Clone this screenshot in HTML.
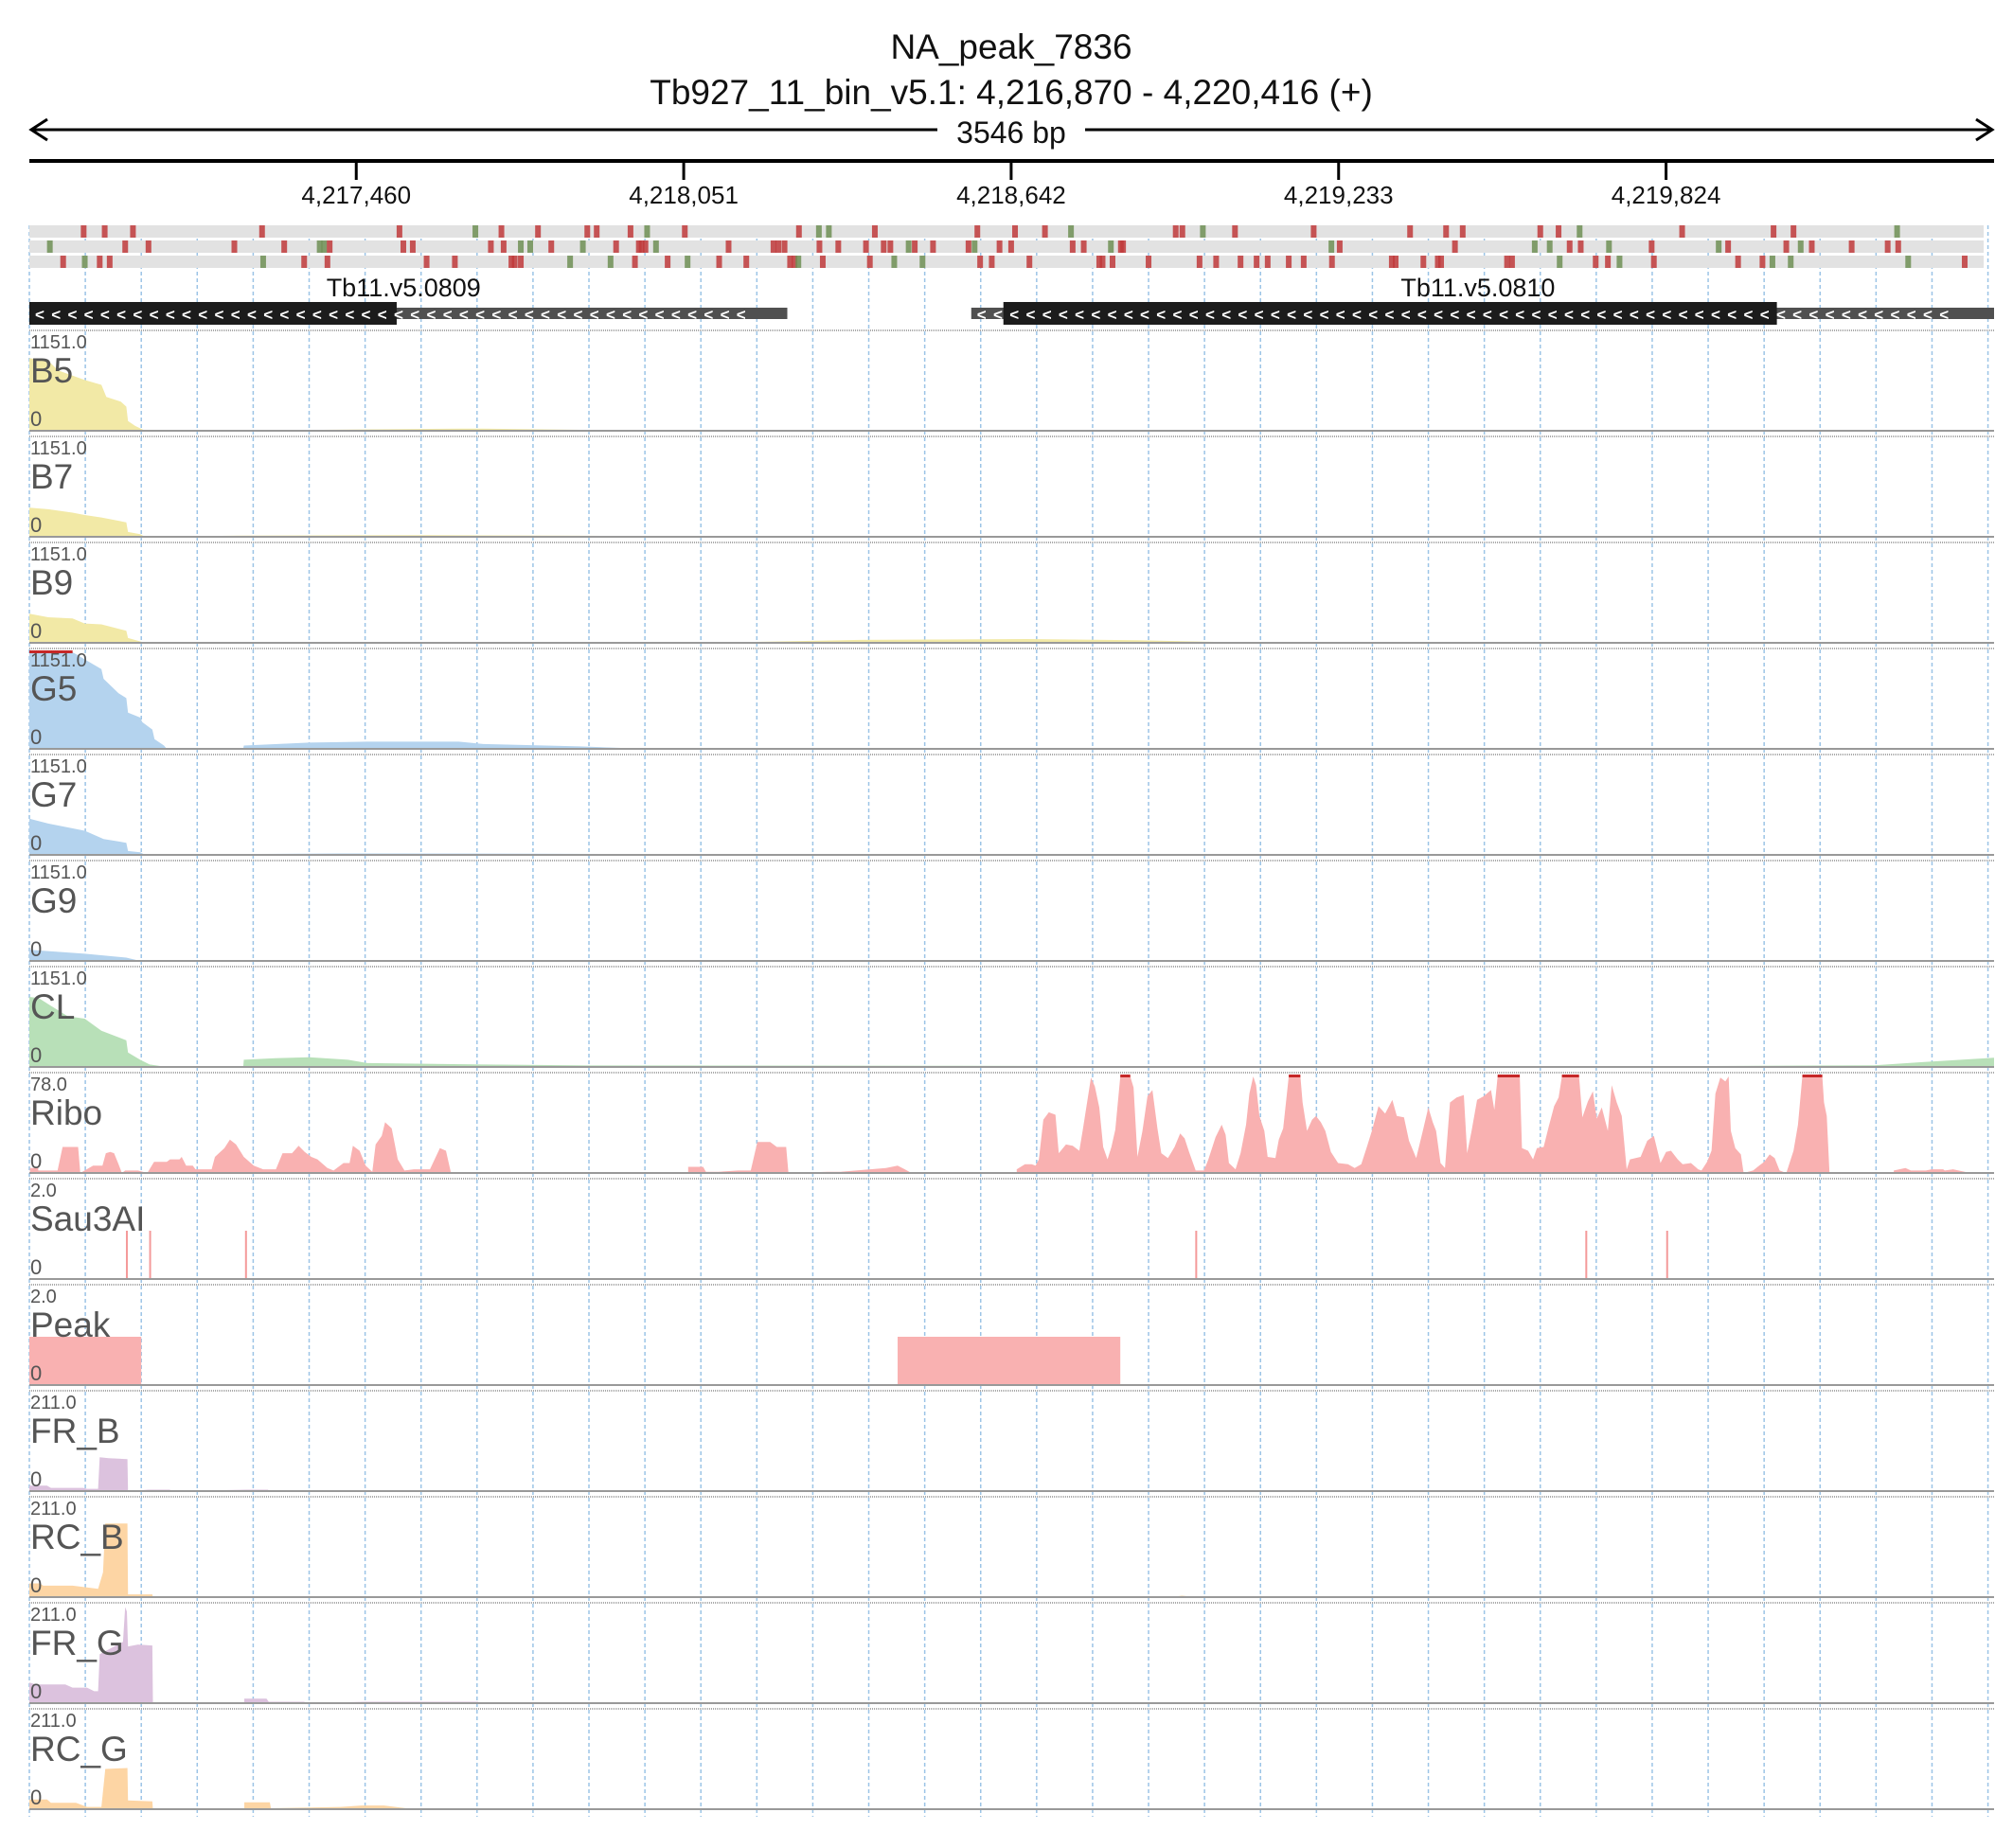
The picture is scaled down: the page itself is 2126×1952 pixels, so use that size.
<!DOCTYPE html>
<html><head><meta charset="utf-8">
<style>
html,body{margin:0;padding:0;background:#fff;}
svg{display:block;font-family:"Liberation Sans",sans-serif;}
</style></head>
<body>
<svg id="chart" width="2126" height="1952" viewBox="0 0 2126 1952" xmlns="http://www.w3.org/2000/svg">
<g id="hdr">
<text x="1068" y="62" font-size="37" text-anchor="middle" fill="#111">NA_peak_7836</text>
<text x="1068" y="110" font-size="37" text-anchor="middle" fill="#111">Tb927_11_bin_v5.1: 4,216,870 - 4,220,416 (+)</text>
<line x1="33" y1="137" x2="2104" y2="137" stroke="#000" stroke-width="3"/>
<polyline points="50,126 33,137 50,148" fill="none" stroke="#000" stroke-width="3"/>
<polyline points="2087,126 2104,137 2087,148" fill="none" stroke="#000" stroke-width="3"/>
<rect x="990" y="118" width="156" height="40" fill="#fff"/>
<text x="1068" y="151" font-size="32" text-anchor="middle" fill="#111">3546 bp</text>
<line x1="31" y1="170" x2="2106" y2="170" stroke="#000" stroke-width="4"/>
</g>
<g id="grid"></g>
<g id="axis"></g>
<g id="variants"></g>
<g id="genes"></g>
<g id="tracks"></g>
</svg>
<script>
const START = 4216870, SPAN = 3546;
const tickValues = [4217460, 4218051, 4218642, 4219233, 4219824];
const tickLabels = ["4,217,460","4,218,051","4,218,642","4,219,233","4,219,824"];
const gridStep = 101;
const variantRow1 = [[98,'r'],[136,'r'],[187,'r'],[420,'r'],[668,'r'],[805,'g'],[852,'r'],[918,'r'],[1007,'r'],[1024,'r'],[1085,'r'],[1115,'g'],[1183,'r'],[1389,'r'],[1425,'g'],[1443,'g'],[1526,'r'],[1711,'r'],[1779,'r'],[1833,'r'],[1880,'g'],[2069,'r'],[2081,'r'],[2118,'g'],[2176,'r'],[2318,'r'],[2492,'r'],[2557,'r'],[2587,'r'],[2727,'r'],[2760,'r'],[2798,'g'],[2983,'r'],[3148,'r'],[3184,'r'],[3371,'g']];
const variantRow2 = [[37,'g'],[173,'r'],[215,'r'],[370,'r'],[460,'r'],[524,'g'],[532,'g'],[542,'r'],[675,'r'],[692,'r'],[833,'r'],[856,'r'],[887,'g'],[904,'g'],[942,'r'],[999,'g'],[1059,'r'],[1100,'r'],[1105,'r'],[1112,'r'],[1131,'g'],[1262,'r'],[1343,'r'],[1352,'r'],[1363,'r'],[1426,'r'],[1460,'r'],[1510,'r'],[1542,'r'],[1554,'r'],[1587,'g'],[1598,'r'],[1631,'r'],[1695,'r'],[1706,'g'],[1751,'r'],[1772,'r'],[1883,'r'],[1903,'r'],[1952,'g'],[1970,'r'],[1974,'r'],[2350,'g'],[2365,'r'],[2573,'r'],[2717,'g'],[2744,'g'],[2780,'r'],[2800,'r'],[2851,'g'],[2928,'r'],[3049,'g'],[3066,'r'],[3171,'r'],[3197,'g'],[3217,'r'],[3289,'r'],[3354,'r'],[3373,'r']];
const variantRow3 = [[61,'r'],[100,'g'],[127,'r'],[145,'r'],[422,'g'],[496,'r'],[538,'r'],[717,'r'],[768,'r'],[870,'r'],[876,'r'],[887,'r'],[976,'g'],[1049,'g'],[1093,'r'],[1152,'r'],[1188,'g'],[1245,'r'],[1294,'r'],[1373,'r'],[1381,'r'],[1388,'g'],[1432,'r'],[1517,'r'],[1561,'g'],[1612,'g'],[1716,'r'],[1737,'r'],[1805,'r'],[1931,'r'],[1937,'r'],[1955,'r'],[2020,'r'],[2112,'r'],[2142,'r'],[2186,'r'],[2215,'r'],[2235,'r'],[2273,'r'],[2300,'r'],[2351,'r'],[2459,'r'],[2466,'r'],[2516,'r'],[2542,'r'],[2548,'r'],[2667,'r'],[2676,'r'],[2762,'g'],[2827,'r'],[2849,'r'],[2870,'g'],[2932,'r'],[3084,'r'],[3128,'r'],[3146,'g'],[3179,'g'],[3391,'g'],[3493,'r']];
const gene1 = {name:"Tb11.v5.0809", start:0, cdsStart:0, cdsEnd:663, end:1368};
const gene2 = {name:"Tb11.v5.0810", start:1700, cdsStart:1758, cdsEnd:3154, end:3546};
const b5Data = [[0,864],[34,835],[52,720],[100,605],[130,547],[139,403],[165,346],[175,288],[178,115],[191,58],[209,0],[505,10],[775,25],[819,25],[1011,10],[1300,5],[1600,0]];
const b7Data = [[0,346],[34,328],[78,288],[100,259],[130,230],[175,173],[178,58],[200,30],[209,0],[380,15],[720,20],[1000,12],[1600,5],[3546,5]];
const b9Data = [[0,346],[34,305],[78,290],[100,230],[130,220],[175,144],[178,58],[209,0],[1300,10],[1500,35],[1800,45],[2000,30],[2150,10],[2300,0],[3546,2]];
const g5Data = [[0,1180],[78,1180],[86,1123],[100,1066],[130,950],[134,835],[161,662],[175,605],[178,432],[200,374],[204,317],[222,230],[226,115],[243,40],[248,0],[386,0],[387,40],[505,75],[610,86],[775,86],[819,58],[993,29],[1115,0]];
const g7Data = [[0,432],[34,374],[100,288],[134,190],[175,144],[178,46],[200,30],[209,0],[380,10],[560,17],[900,15],[1200,8],[1600,3],[3546,3]];
const g9Data = [[0,132],[100,86],[175,40],[200,0],[380,5],[700,8],[1200,4],[3546,2]];
const clData = [[0,835],[17,820],[34,749],[69,605],[100,576],[130,432],[175,317],[178,173],[200,86],[217,29],[248,0],[386,0],[387,86],[444,104],[505,115],[575,86],[610,46],[819,29],[1011,18],[1600,15],[2000,10],[2500,10],[3000,10],[3330,20],[3420,60],[3546,110]];
const riboData = [[1,0],[1,4],[16,4],[16,2],[51,2],[60,21],[88,21],[92,0],[115,6],[132,6],[138,16],[146,17],[153,16],[161,7],[167,0],[173,2],[196,2],[213,0],[225,9],[248,9],[254,11],[271,11],[275,13],[283,6],[295,6],[300,3],[329,3],[335,13],[352,20],[362,27],[373,23],[387,13],[405,6],[422,3],[445,3],[457,16],[474,16],[486,22],[497,17],[509,13],[520,11],[538,4],[549,2],[567,8],[578,8],[584,22],[596,18],[607,6],[619,1],[625,23],[636,30],[642,41],[654,36],[665,11],[677,2],[694,3],[723,3],[741,20],[752,18],[761,0],[1189,0],[1189,5],[1216,5],[1221,1],[1244,1],[1279,2],[1302,2],[1314,25],[1337,25],[1349,21],[1366,21],[1370,0],[1441,1],[1465,1],[1546,4],[1567,6],[1580,3],[1592,0],[1782,0],[1782,3],[1797,7],[1809,7],[1816,6],[1822,11],[1830,43],[1840,49],[1852,47],[1858,16],[1871,23],[1883,22],[1895,18],[1901,34],[1908,54],[1916,77],[1923,70],[1931,53],[1938,21],[1946,11],[1953,21],[1960,35],[1969,80],[1987,80],[1993,69],[2000,13],[2009,34],[2018,62],[2027,67],[2036,36],[2043,16],[2055,12],[2067,21],[2077,32],[2085,28],[2093,17],[2105,2],[2120,2],[2128,11],[2141,29],[2152,39],[2159,31],[2165,8],[2177,3],[2186,16],[2196,39],[2202,64],[2209,80],[2214,71],[2220,46],[2229,34],[2235,13],[2249,12],[2255,27],[2263,36],[2273,80],[2294,80],[2298,57],[2306,34],[2315,43],[2322,46],[2331,41],[2339,34],[2349,17],[2362,8],[2380,7],[2392,4],[2404,7],[2414,21],[2423,34],[2435,54],[2447,48],[2460,59],[2468,46],[2481,45],[2490,26],[2503,12],[2515,34],[2525,53],[2533,41],[2539,34],[2547,8],[2555,4],[2564,57],[2576,61],[2589,63],[2595,16],[2603,34],[2613,59],[2625,62],[2638,67],[2644,51],[2650,80],[2690,80],[2694,20],[2705,18],[2714,11],[2721,20],[2733,21],[2742,37],[2752,54],[2760,61],[2766,80],[2797,80],[2803,45],[2813,58],[2822,66],[2829,44],[2838,53],[2849,34],[2856,71],[2865,57],[2874,46],[2883,3],[2889,11],[2908,13],[2920,26],[2932,30],[2944,8],[2954,17],[2963,18],[2975,11],[2984,7],[2999,8],[3012,3],[3018,2],[3028,9],[3036,18],[3043,64],[3052,77],[3061,74],[3067,80],[3071,34],[3079,20],[3089,15],[3094,0],[3111,2],[3122,6],[3131,9],[3141,15],[3150,12],[3159,2],[3171,0],[3184,18],[3192,39],[3200,80],[3236,80],[3239,57],[3244,46],[3249,0],[3365,0],[3365,2],[3386,4],[3396,2],[3423,2],[3433,3],[3454,3],[3457,2],[3472,3],[3503,0]];
const sauData = [[176,1],[218,1],[391,1],[2106,1],[2810,1],[2956,1]];
const peakData = [[0,1],[202,1],[202,0],[1567,0],[1567,1],[1969,1],[1969,0]];
const frbData = [[0,12],[32,12],[39,7],[97,7],[104,5],[124,5],[127,74],[143,72],[177,70],[178,0],[215,3],[254,3],[255,0],[392,3],[431,3],[432,1],[601,2],[719,2],[720,0]];
const rcbData = [[0,30],[19,30],[25,25],[78,25],[104,21],[124,18],[133,54],[137,161],[177,161],[178,6],[222,6],[223,0],[1850,0],[1880,2],[1920,0],[2060,0],[2080,3],[2110,0]];
const frgData = [[0,45],[12,41],[65,41],[78,34],[104,34],[117,26],[124,26],[127,107],[169,134],[173,210],[176,200],[178,124],[196,128],[222,126],[223,0],[388,0],[388,10],[428,10],[432,3],[496,3],[500,0],[608,3],[810,3],[812,0]];
const rcgData = [[0,21],[32,21],[39,14],[84,14],[104,5],[130,5],[137,88],[177,90],[178,19],[222,17],[223,0],[388,0],[388,15],[434,15],[436,2],[562,5],[600,8],[640,8],[680,2],[900,1]];

const trackNames = ["B5","B7","B9","G5","G7","G9","CL","Ribo","Sau3AI","Peak","FR_B","RC_B","FR_G","RC_G"];
const trackMax = [1151,1151,1151,1151,1151,1151,1151,78,2,2,211,211,211,211];
const trackMaxLabels = ["1151.0","1151.0","1151.0","1151.0","1151.0","1151.0","1151.0","78.0","2.0","2.0","211.0","211.0","211.0","211.0"];
const trackSeries = [b5Data,b7Data,b9Data,g5Data,g7Data,g9Data,clData,riboData,sauData,peakData,frbData,rcbData,frgData,rcgData];
const trackColors = ["#f2e9a6","#f2e9a6","#f2e9a6","#b4d3ee","#b4d3ee","#b4d3ee","#b8e0b8","#f9b1b1","#f49a9a","#f9b1b1","#dcc2de","#fdd5a4","#dcc2de","#fdd5a4"];

const NS = "http://www.w3.org/2000/svg";
const X0 = 31, X1 = 2106;
const x = bp => X0 + bp * (X1 - X0) / SPAN;
function mk(tag, attrs, parent){ const e = document.createElementNS(NS, tag); for (const k in attrs) e.setAttribute(k, attrs[k]); parent.appendChild(e); return e; }

const TOP0 = 349, TH = 112, PH = 102, BASE = 106;
const gridG = document.getElementById('grid');
for (let bp = 0; bp <= SPAN; bp += gridStep) {
  const l = mk('line', {x1:x(bp), x2:x(bp), y1:238, y2:TOP0 + 14*TH + 2, stroke:'#9cc4e6', 'stroke-width':1.5, 'stroke-dasharray':'4,3'}, gridG);
  
  
}
const axisG = document.getElementById('axis');
tickValues.forEach((v, i) => {
  const tx = x(v - START);
  const t = mk('line', {x1:tx, x2:tx, y1:170, y2:190, stroke:'#000', 'stroke-width':3}, axisG);
  
  
  const lb = mk('text', {x:tx, y:215, 'font-size':26, 'text-anchor':'middle', fill:'#111'}, axisG);
  
  
  lb.textContent = tickLabels[i];
});

const varG = document.getElementById('variants');
[variantRow1, variantRow2, variantRow3].forEach((row, r) => {
  const y = 238 + r * 16;
  const band = mk('rect', {x:31, y:y, width:2064, height:13, fill:'#e2e2e2'}, varG);
  
  
  row.forEach(v => {
    const m = mk('rect', {x:x(v[0]) - 3, y:y, width:6, height:13, fill: v[1] === 'g' ? '#6f8f55' : '#c0393b', opacity:0.85}, varG);
    
    
  });
});

const geneG = document.getElementById('genes');
[gene1, gene2].forEach(g => {
  const thin = mk('rect', {x:x(g.start), y:325, width:x(g.end) - x(g.start), height:12, fill:'#505050'}, geneG);
  
  
  const thick = mk('rect', {x:x(g.cdsStart), y:319, width:x(g.cdsEnd) - x(g.cdsStart), height:24, fill:'#1c1c1c'}, geneG);
  
  
  let s = '';
  const n = Math.floor((x(g.end) - x(g.start) - 10) / 17.6);
  for (let i = 0; i < n; i++) s += '<';
  const ch = mk('text', {x:x(g.start) + 6, y:338, 'font-size':17, fill:'#fff', 'font-weight':'bold', 'letter-spacing':'7.3'}, geneG);
  
  
  ch.textContent = s;
  const lb = mk('text', {x:(x(g.start) + x(g.end)) / 2 - 5, y:313, 'font-size':27, 'text-anchor':'middle', fill:'#111'}, geneG);
  
  
  lb.textContent = g.name;
});

const trG = document.getElementById('tracks');
trackNames.forEach((name, i) => {
  const top = TOP0 + i * TH, base = top + BASE, max = trackMax[i];
  const yv = v => base - Math.min(v, max) / max * PH;
  const g = mk('g', {}, trG);
  
  
  const sep = mk('line', {x1:31, x2:2106, y1:top, y2:top, stroke:'#aaa', 'stroke-width':2, 'stroke-dasharray':'1,1'}, g);
  
  
  const data = trackSeries[i];
  if (name === 'Sau3AI') {
    data.forEach(d => {
      const r = mk('rect', {x:x(d[0]) - 1, y:yv(d[1]), width:2, height:base - yv(d[1]), fill:trackColors[i]}, g);
      
      
    });
  } else {
    let p = 'M' + x(data[0][0]) + ',' + base;
    data.forEach(d => { p += ' L' + x(d[0]).toFixed(1) + ',' + yv(d[1]).toFixed(1); });
    p += ' L' + x(data[data.length - 1][0]).toFixed(1) + ',' + base + ' Z';
    const a = mk('path', {d:p, fill:trackColors[i]}, g);
    
    
    for (let k = 0; k < data.length - 1; k++) {
      if (data[k][1] > max && data[k + 1][1] > max) {
        const c = mk('rect', {x:x(data[k][0]), y:top + 2, width:x(data[k + 1][0]) - x(data[k][0]), height:3, fill:'#c62828'}, g);
        
        
      }
    }
  }
  const bl = mk('line', {x1:31, x2:2106, y1:base, y2:base, stroke:'#999', 'stroke-width':2}, g);
  
  
  const mx = mk('text', {x:32, y:top + 19, 'font-size':20, fill:'#555'}, g);
  
  
  mx.textContent = trackMaxLabels[i];
  const nm = mk('text', {x:32, y:top + 55, 'font-size':37, fill:'#555'}, g);
  
  
  nm.textContent = name;
  const z = mk('text', {x:32, y:top + 101, 'font-size':22, fill:'#555'}, g);
  
  
  z.textContent = '0';
});
</script>
</body></html>
